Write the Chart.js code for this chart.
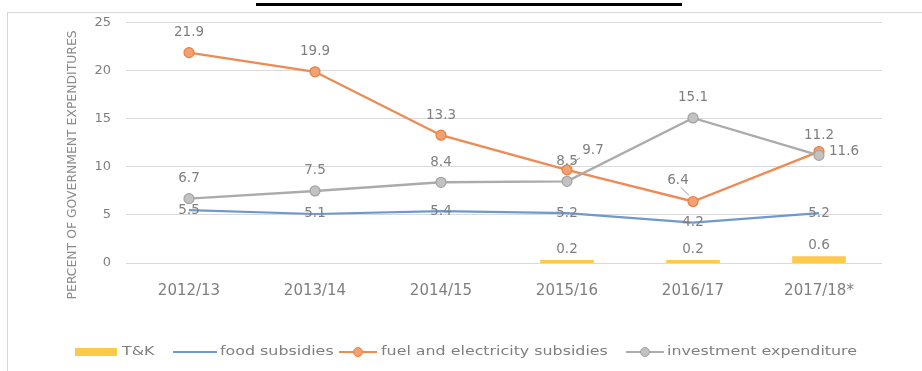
<!DOCTYPE html>
<html>
<head>
<meta charset="utf-8">
<script src="https://cdn.jsdelivr.net/npm/chart.js@4.4.1/dist/chart.umd.min.js"></script>
<style>
  body { margin: 0; background: #fff; width: 922px; height: 371px; overflow: hidden; position: relative; font-family: "DejaVu Sans", sans-serif; }
  #frame { position: absolute; left: 7px; top: 12px; width: 930px; height: 380px; border-left: 1px solid #d6d6d6; border-top: 1px solid #d6d6d6; }
  #titlebar { position: absolute; left: 256px; top: 3px; width: 426px; height: 3px; background: #000; }
  #chart { position: absolute; left: 0; top: 0; }
  .leg { position: absolute; top: 343px; height: 16px; line-height: 16px; font-size: 13px; color: #7f7f7f; white-space: nowrap; transform: scaleX(1.22); transform-origin: 0 50%; }
  .sw { position: absolute; }
</style>
</head>
<body>
<div id="frame"></div>
<div id="titlebar"></div>
<canvas id="chart" width="922" height="371"></canvas>

<div class="sw" style="left:75px;top:348px;width:42px;height:8px;background:#fdc94b;"></div>
<div class="leg" style="left:122px;">T&amp;K</div>
<div class="sw" style="left:173px;top:351px;width:44px;height:2px;background:#6f98cf;"></div>
<div class="leg" style="left:220px;">food subsidies</div>
<div class="sw" style="left:339px;top:351px;width:38px;height:2px;background:#ee8a52;"></div>
<div class="sw" style="left:353px;top:347px;width:8px;height:8px;border-radius:50%;background:#f3a073;border:1px solid #ea7e40;"></div>
<div class="leg" style="left:381px;">fuel and electricity subsidies</div>
<div class="sw" style="left:626px;top:351px;width:38px;height:2px;background:#ababab;"></div>
<div class="sw" style="left:640px;top:347px;width:8px;height:8px;border-radius:50%;background:#c2c2c2;border:1px solid #a3a3a3;"></div>
<div class="leg" style="left:667px;">investment expenditure</div>

<script>
const years = ['2012/13', '2013/14', '2014/15', '2015/16', '2016/17', '2017/18*'];
const tkValues = [null, null, null, 0.2, 0.2, 0.6];
const foodValues = [5.5, 5.1, 5.4, 5.2, 4.2, 5.2];
const fuelValues = [21.9, 19.9, 13.3, 9.7, 6.4, 11.6];
const investValues = [6.7, 7.5, 8.4, 8.5, 15.1, 11.2];
const yTicks = [0, 5, 10, 15, 20, 25];
const yTitle = 'PERCENT OF GOVERNMENT EXPENDITURES';

const textGray = '#7f7f7f';
const labelFont = '13.5px "DejaVu Sans"';

// where each data label goes, relative to its point
const labelPlaces = [
    { mode: 'bar' },
    { mode: 'center' },
    { mode: 'above', special: { 3: { dx: 26, dy: -19, leader: true }, 4: { dx: -15, dy: -21, leader: true }, 5: { right: true } } },
    { mode: 'above' }
];

const dataLabels = {
    id: 'dataLabels',
    afterDatasetsDraw(chart) {
        const ctx = chart.ctx;
        ctx.save();
        ctx.font = labelFont;
        ctx.fillStyle = textGray;
        ctx.strokeStyle = '#9a9a9a';
        ctx.lineWidth = 1;
        ctx.textBaseline = 'middle';
        chart.data.datasets.forEach(function(ds, i) {
            const meta = chart.getDatasetMeta(i);
            const place = labelPlaces[i];
            meta.data.forEach(function(el, j) {
                const v = ds.data[j];
                if (v === null || v === undefined) return;
                const txt = v.toFixed(1);
                let x = el.x, y = el.y;
                ctx.textAlign = 'center';
                const sp = place.special && place.special[j];
                if (place.mode === 'bar') {
                    y = el.y - 12;
                } else if (place.mode === 'center') {
                    y = el.y;
                } else if (sp && sp.right) {
                    ctx.textAlign = 'left';
                    x = el.x + 10;
                } else if (sp) {
                    x = el.x + sp.dx;
                    y = el.y + sp.dy;
                    if (sp.leader) {
                        const sx = sp.dx > 0 ? x - 13 : x + 3;
                        ctx.beginPath();
                        ctx.moveTo(sx, y + 7);
                        ctx.lineTo(el.x + (sp.dx > 0 ? 4 : -4), el.y - 6);
                        ctx.stroke();
                    }
                } else {
                    y = el.y - 20;
                }
                ctx.fillText(txt, x, y);
            });
        });

        // axis title, sits a bit lower than the plot centre like the original
        const ys = chart.scales.y;
        ctx.save();
        ctx.translate(73, ys.getPixelForValue(10) - 2);
        ctx.rotate(-Math.PI / 2);
        ctx.font = '12.4px "DejaVu Sans"';
        ctx.fillStyle = '#8a8a8a';
        ctx.textAlign = 'center';
        ctx.textBaseline = 'middle';
        ctx.fillText(yTitle, 0, 0);
        ctx.restore();

        ctx.restore();
    }
};

new Chart(document.getElementById('chart'), {
    data: {
        labels: years,
        datasets: [
            {
                type: 'bar',
                label: 'T&K',
                data: tkValues,
                backgroundColor: '#fdc94b',
                barPercentage: 0.41,
                categoryPercentage: 1,
                inflateAmount: 1,
                order: 10
            },
            {
                type: 'line',
                label: 'food subsidies',
                data: foodValues,
                borderColor: '#6f98cf',
                borderWidth: 2.2,
                pointRadius: 0,
                tension: 0,
                order: 3
            },
            {
                type: 'line',
                label: 'fuel and electricity subsidies',
                data: fuelValues,
                borderColor: '#ee8a52',
                backgroundColor: '#f3a073',
                pointBorderColor: '#ea7e40',
                pointBorderWidth: 1.2,
                borderWidth: 2.4,
                pointRadius: 5,
                tension: 0,
                order: 2
            },
            {
                type: 'line',
                label: 'investment expenditure',
                data: investValues,
                borderColor: '#ababab',
                backgroundColor: '#c2c2c2',
                pointBorderColor: '#a3a3a3',
                pointBorderWidth: 1.2,
                borderWidth: 2.4,
                pointRadius: 5,
                tension: 0,
                order: 1
            }
        ]
    },
    options: {
        responsive: false,
        animation: false,
        layout: { padding: { left: 62, right: 40, top: 21, bottom: 68 } },
        plugins: {
            legend: { display: false },
            tooltip: { enabled: false }
        },
        scales: {
            x: {
                grid: { display: false },
                border: { display: false },
                ticks: { color: textGray, font: { family: 'DejaVu Sans', size: 15 }, padding: 11, maxRotation: 0 },
                afterFit: function(scale) { scale.height = 40; }
            },
            y: {
                min: 0,
                max: 25,
                afterBuildTicks: function(scale) { scale.ticks = yTicks.map(v => ({ value: v })); },
                grid: { color: '#dadada', drawTicks: false },
                border: { display: false },
                ticks: { color: textGray, font: { family: 'DejaVu Sans', size: 13 }, padding: 15 },
                afterFit: function(scale) { scale.width = 64; }
            }
        }
    },
    plugins: [dataLabels]
});
</script>
</body>
</html>
